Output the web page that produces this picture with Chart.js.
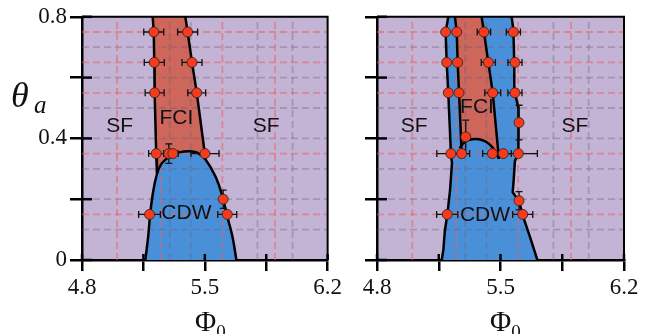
<!DOCTYPE html>
<html>
<head>
<meta charset="utf-8">
<script src="https://cdn.jsdelivr.net/npm/chart.js@4.4.1/dist/chart.umd.min.js"></script>
<style>
body { margin: 0; background: #fff; width: 657px; height: 334px; overflow: hidden; position: relative; }
canvas { position: absolute; top: 0; }
</style>
</head>
<body>
<canvas id="leftChart" width="345" height="334" style="left:0"></canvas>
<canvas id="rightChart" width="327" height="334" style="left:330px"></canvas>
<script>
// axes
const xTicks = [4.8, 5.15, 5.5, 5.85, 6.2];
const xLabels = ['4.8', '', '5.5', '', '6.2'];
const yTicks = [0, 0.2, 0.4, 0.6, 0.8];
const yLabels = ['0', '', '0.4', '', '0.8'];

// dashed mesh
const redGridPhi = [5.0, 5.25, 5.6, 5.9];
const grayGridPhi = [5.3, 5.42, 5.8, 6.0];
const redGridTheta = [0.15, 0.35, 0.55, 0.65, 0.75];
const grayGridTheta = [0.1, 0.2, 0.3, 0.4, 0.5, 0.6, 0.7];

// left panel boundaries
const leftFciLeftPhi = [5.203, 5.209, 5.212, 5.214, 5.223, 5.227];
const leftFciLeftTheta = [0.8, 0.75, 0.65, 0.55, 0.35, 0.285];
const leftFciRightPhi = [5.389, 5.402, 5.427, 5.454, 5.501, 5.505];
const leftFciRightTheta = [0.8, 0.75, 0.65, 0.55, 0.346, 0.33];
const leftFciFillPhi = [5.203, 5.209, 5.212, 5.214, 5.223, 5.227, 5.24, 5.50, 5.505, 5.501, 5.454, 5.427, 5.402, 5.389];
const leftFciFillTheta = [0.8, 0.75, 0.65, 0.55, 0.35, 0.285, 0.25, 0.25, 0.33, 0.346, 0.55, 0.65, 0.75, 0.8];
const domePhi = [5.161, 5.177, 5.188, 5.202, 5.225, 5.253, 5.299, 5.355, 5.412, 5.457, 5.505, 5.563, 5.601, 5.629, 5.658, 5.680];
const domeTheta = [0, 0.076, 0.147, 0.212, 0.278, 0.317, 0.340, 0.354, 0.358, 0.353, 0.330, 0.272, 0.207, 0.141, 0.076, 0];

// left panel data points
const leftPtPhi = [5.209, 5.402, 5.212, 5.427, 5.214, 5.454, 5.223, 5.295, 5.318, 5.501, 5.185, 5.605, 5.628];
const leftPtTheta = [0.75, 0.75, 0.65, 0.65, 0.55, 0.55, 0.35, 0.35, 0.35, 0.35, 0.15, 0.2, 0.15];
const leftErrPhi = [0.057, 0.057, 0.057, 0.057, 0.054, 0.051, 0.043, 0, 0.03, 0.08, 0.062, 0, 0.054];
const leftErrTheta = [0, 0, 0, 0, 0, 0, 0, 0.032, 0, 0, 0, 0.03, 0];

// right panel boundaries
const rightBluePhi = [5.204, 5.189, 5.195, 5.204, 5.219, 5.225, 5.214, 5.198, 5.185, 5.176, 5.167,
                      5.709, 5.667, 5.626, 5.605, 5.569, 5.573, 5.582, 5.601, 5.603, 5.600, 5.582, 5.578, 5.573, 5.563];
const rightBlueTheta = [0.8, 0.75, 0.65, 0.55, 0.35, 0.32, 0.229, 0.147, 0.098, 0.033, 0,
                        0, 0.076, 0.147, 0.193, 0.223, 0.25, 0.327, 0.35, 0.452, 0.50, 0.549, 0.647, 0.757, 0.8];
const rightInnerPhi = [5.242, 5.252, 5.257, 5.265, 5.280];
const rightInnerTheta = [0.8, 0.75, 0.65, 0.55, 0.35];
const rightSlantPhi = [5.393, 5.406, 5.431, 5.456, 5.491];
const rightSlantTheta = [0.8, 0.75, 0.65, 0.55, 0.333];
const rightArcPhi = [5.268, 5.299, 5.338, 5.378, 5.418, 5.452, 5.474, 5.491];
const rightArcTheta = [0.368, 0.389, 0.397, 0.397, 0.389, 0.372, 0.353, 0.333];
const rightFciFillPhi = [5.242, 5.252, 5.257, 5.265, 5.276, 5.299, 5.338, 5.378, 5.418, 5.452, 5.474, 5.491, 5.456, 5.431, 5.406, 5.393];
const rightFciFillTheta = [0.8, 0.75, 0.65, 0.55, 0.372, 0.389, 0.397, 0.397, 0.389, 0.372, 0.353, 0.333, 0.55, 0.65, 0.75, 0.8];

// right panel data points
const rightPtPhi = [5.189, 5.252, 5.406, 5.573, 5.195, 5.257, 5.431, 5.582, 5.204, 5.265, 5.456, 5.582,
                    5.219, 5.280, 5.454, 5.516, 5.601, 5.303, 5.605, 5.198, 5.605, 5.626];
const rightPtTheta = [0.75, 0.75, 0.75, 0.75, 0.65, 0.65, 0.65, 0.65, 0.55, 0.55, 0.55, 0.55,
                      0.35, 0.35, 0.35, 0.35, 0.35, 0.405, 0.452, 0.15, 0.195, 0.15];
const rightErrPhi = [0, 0, 0.038, 0.04, 0, 0, 0.04, 0.04, 0, 0, 0.045, 0.04,
                     0.08, 0.045, 0.055, 0.045, 0.108, 0, 0, 0.06, 0, 0.057];
const rightErrTheta = [0, 0, 0, 0, 0, 0, 0, 0, 0, 0, 0, 0,
                       0, 0, 0, 0, 0, 0.055, 0.057, 0, 0.03, 0];

const PURPLE = '#c3b3d4';
const RED = '#cd665b';
const BLUE = '#4a90d9';

const xy = (phis, thetas) => phis.map((p, i) => ({x: p, y: thetas[i]}));

function fillSet(data, color, tension, order)
{
    return {data: data, fill: 'shape', backgroundColor: color, borderWidth: 0, borderColor: 'rgba(0,0,0,0)',
            pointRadius: 0, tension: tension, order: order};
}

function lineSet(data, tension)
{
    return {data: data, fill: false, borderColor: '#000', borderWidth: 2.5, pointRadius: 0, tension: tension, order: 20};
}

function gridSets()
{
    const sets = [];
    const mk = (data, color) => ({data: data, fill: false, borderColor: color, borderWidth: 1.8,
                                  borderDash: [7, 4], pointRadius: 0, order: 50});
    redGridPhi.forEach(v => sets.push(mk([{x: v, y: 0}, {x: v, y: 0.8}], 'rgba(236,96,96,0.55)')));
    grayGridPhi.forEach(v => sets.push(mk([{x: v, y: 0}, {x: v, y: 0.8}], 'rgba(105,95,120,0.35)')));
    redGridTheta.forEach(v => sets.push(mk([{x: 4.8, y: v}, {x: 6.2, y: v}], 'rgba(236,96,96,0.55)')));
    grayGridTheta.forEach(v => sets.push(mk([{x: 4.8, y: v}, {x: 6.2, y: v}], 'rgba(105,95,120,0.35)')));
    return sets;
}

function pointSets(phis, thetas, ePhi, eTheta)
{
    const sets = [];
    const bar = (data, rot) => ({data: data, fill: false, showLine: true, borderColor: '#111', borderWidth: 1.3,
                                 pointStyle: 'line', pointRotation: rot, pointRadius: 3.5,
                                 pointBorderColor: '#111', pointBorderWidth: 1.3, order: 10});
    phis.forEach((p, i) => {
        if (ePhi[i]) sets.push(bar([{x: p - ePhi[i], y: thetas[i]}, {x: p + ePhi[i], y: thetas[i]}], 90));
        if (eTheta[i]) sets.push(bar([{x: p, y: thetas[i] - eTheta[i]}, {x: p, y: thetas[i] + eTheta[i]}], 0));
    });
    sets.push({data: xy(phis, thetas), showLine: false, pointRadius: 5, pointBackgroundColor: '#f63a1b',
               pointBorderColor: '#222', pointBorderWidth: 0.8, order: 0});
    return sets;
}

const framePlugin = {
    id: 'frame',
    beforeDraw(chart)
    {
        const {ctx, chartArea: a} = chart;
        ctx.save();
        ctx.fillStyle = PURPLE;
        ctx.fillRect(a.left, a.top, a.right - a.left, a.bottom - a.top);
        ctx.restore();
    },
    afterDraw(chart, args, opts)
    {
        const {ctx, chartArea: a, scales} = chart;
        ctx.save();
        ctx.strokeStyle = '#000';
        ctx.lineWidth = 2;
        ctx.beginPath();
        ctx.moveTo(a.left, a.top);
        ctx.lineTo(a.right, a.top);
        ctx.lineTo(a.right, a.bottom);
        ctx.stroke();

        // inner half of the tick marks
        ctx.lineWidth = 2.5;
        xTicks.forEach(v => {
            const px = scales.x.getPixelForValue(v);
            ctx.beginPath(); ctx.moveTo(px, a.bottom); ctx.lineTo(px, a.bottom - 6); ctx.stroke();
        });
        yTicks.forEach(v => {
            const py = scales.y.getPixelForValue(v);
            ctx.beginPath(); ctx.moveTo(a.left, py); ctx.lineTo(a.left + 10, py); ctx.stroke();
        });

        // phase labels
        ctx.fillStyle = '#111';
        ctx.font = '21px "Liberation Sans", Arial, sans-serif';
        ctx.textAlign = 'center';
        ctx.textBaseline = 'middle';
        opts.labels.forEach(l => {
            ctx.fillText(l.text, scales.x.getPixelForValue(l.x), scales.y.getPixelForValue(l.y));
        });

        // axis titles
        ctx.textAlign = 'left';
        ctx.textBaseline = 'alphabetic';
        ctx.font = '29px "Liberation Serif", serif';
        ctx.fillText('Φ', opts.phiX, 331);
        const w = ctx.measureText('Φ').width;
        ctx.font = '19px "Liberation Serif", serif';
        ctx.fillText('0', opts.phiX + w, 338);
        if (opts.theta)
        {
            ctx.font = 'italic 36px "Liberation Serif", serif';
            ctx.fillText('θ', 11, 107);
            ctx.font = 'italic 25px "Liberation Serif", serif';
            ctx.fillText('a', 34, 113);
        }
        ctx.restore();
    }
};

function makeChart(id, datasets, yWidth, padRight, showY, frameOpts)
{
    const serif = {family: '"Liberation Serif", serif', size: 23};
    new Chart(document.getElementById(id), {
        type: 'line',
        data: {datasets: datasets},
        plugins: [framePlugin],
        options: {
            responsive: false,
            animation: false,
            layout: {padding: {top: 15, right: padRight, left: 0, bottom: 0}},
            plugins: {
                legend: {display: false},
                tooltip: {enabled: false},
                frame: frameOpts
            },
            scales: {
                x: {
                    type: 'linear', min: 4.8, max: 6.2,
                    afterBuildTicks: s => { s.ticks = xTicks.map(v => ({value: v})); },
                    afterFit: s => { s.height = 74; },
                    ticks: {callback: (v, i) => xLabels[i], font: serif, color: '#111', padding: 3,
                            maxRotation: 0, autoSkip: false},
                    grid: {drawOnChartArea: false, drawTicks: true, tickLength: 11, color: '#000', lineWidth: 2.5},
                    border: {display: true, color: '#000', width: 2.5}
                },
                y: {
                    type: 'linear', min: 0, max: 0.8,
                    afterBuildTicks: s => { s.ticks = yTicks.map(v => ({value: v})); },
                    afterFit: s => { s.width = yWidth; },
                    ticks: {callback: (v, i) => showY ? yLabels[i] : '', font: serif, color: '#111', padding: 3,
                            autoSkip: false},
                    grid: {drawOnChartArea: false, drawTicks: true, tickLength: 12, color: '#000', lineWidth: 2.5},
                    border: {display: true, color: '#000', width: 2.5}
                }
            }
        }
    });
}

// left panel
const leftSets = [
    fillSet(xy(leftFciFillPhi, leftFciFillTheta), RED, 0, 110),
    fillSet(xy(domePhi, domeTheta), BLUE, 0.4, 100),
    ...gridSets(),
    lineSet(xy(leftFciLeftPhi, leftFciLeftTheta), 0),
    lineSet(xy(leftFciRightPhi, leftFciRightTheta), 0),
    lineSet(xy(domePhi, domeTheta), 0.4),
    ...pointSets(leftPtPhi, leftPtTheta, leftErrPhi, leftErrTheta)
];
makeChart('leftChart', leftSets, 82, 16, true, {
    phiX: 195, theta: true,
    labels: [
        {text: 'SF', x: 5.015, y: 0.441},
        {text: 'FCI', x: 5.338, y: 0.467},
        {text: 'SF', x: 5.849, y: 0.441},
        {text: 'CDW', x: 5.395, y: 0.153}
    ]
});

// right panel
const rightSets = [
    fillSet(xy(rightBluePhi, rightBlueTheta), BLUE, 0, 110),
    fillSet(xy(rightFciFillPhi, rightFciFillTheta), RED, 0, 100),
    ...gridSets(),
    lineSet(xy(rightBluePhi.slice(0, 11), rightBlueTheta.slice(0, 11)), 0),
    lineSet(xy(rightBluePhi.slice(11), rightBlueTheta.slice(11)), 0),
    lineSet(xy(rightInnerPhi, rightInnerTheta), 0),
    lineSet(xy(rightSlantPhi, rightSlantTheta), 0),
    lineSet(xy(rightArcPhi, rightArcTheta), 0.4),
    ...pointSets(rightPtPhi, rightPtTheta, rightErrPhi, rightErrTheta)
];
makeChart('rightChart', rightSets, 47, 33, false, {
    phiX: 160, theta: false,
    labels: [
        {text: 'SF', x: 5.01, y: 0.441},
        {text: 'FCI', x: 5.367, y: 0.503},
        {text: 'SF', x: 5.922, y: 0.441},
        {text: 'CDW', x: 5.412, y: 0.147}
    ]
});
</script>
</body>
</html>
